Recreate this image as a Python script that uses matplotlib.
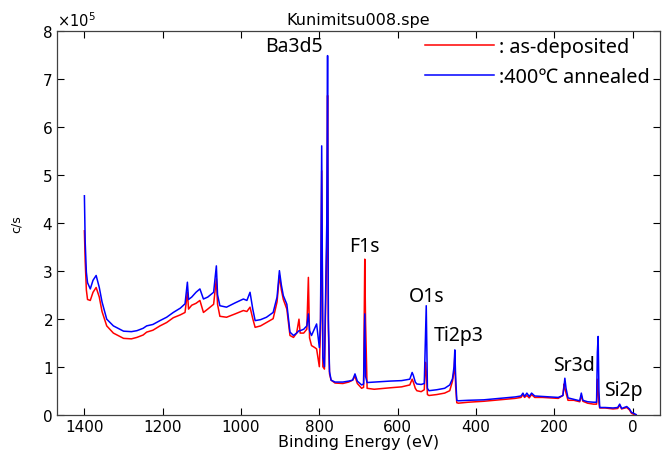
import matplotlib

matplotlib.use("Agg")
import matplotlib.pyplot as plt
import numpy as np
from matplotlib.ticker import ScalarFormatter


COLOR_AS_DEP = "#ff0000"
COLOR_ANNEAL = "#0000ff"
LABEL_FONT = ["Noto Sans", "Noto Sans CJK JP", "DejaVu Sans"]

# binding energy grid (eV)
energy = [
    1400, 1398, 1395, 1392, 1385, 1378, 1370, 1362, 1355, 1343, 1326, 1300, 1280, 1266,
    1250, 1241, 1225, 1207, 1190, 1173, 1155, 1143, 1137, 1134, 1126, 1115, 1105, 1096,
    1085, 1070, 1063, 1060, 1054, 1037, 1015, 994, 985, 977, 970, 964, 950, 935, 918,
    908, 902, 897, 892, 883, 875, 866, 858, 852, 849, 840, 832, 828, 825, 820, 812, 807,
    800, 797, 794, 791, 787, 784, 781, 779, 777, 774, 770, 760, 740, 725, 715, 709, 703,
    692, 687, 684, 682, 678, 660, 620, 590, 569, 563, 560, 555, 551, 540, 532, 529, 527,
    524, 520, 500, 480, 467, 460, 456, 454, 452, 449, 445, 420, 380, 340, 300, 285, 280,
    276, 270, 264, 258, 250, 230, 212, 190, 178, 175, 173, 170, 165, 150, 135, 131, 127,
    115, 100, 92, 90, 88, 86, 84, 70, 50, 38, 33, 28, 15, 8, 3, -5, -9,
]

# intensity in units of 1e5 c/s, 400C annealed
annealed = [
    4.56, 3.60, 2.97, 2.75, 2.62, 2.80, 2.90, 2.65, 2.35, 1.99, 1.85, 1.74, 1.73, 1.75,
    1.80, 1.85, 1.88, 1.96, 2.03, 2.13, 2.22, 2.31, 2.76, 2.40, 2.45, 2.55, 2.62, 2.41,
    2.45, 2.55, 3.10, 2.50, 2.27, 2.24, 2.33, 2.41, 2.38, 2.55, 2.20, 1.96, 1.98, 2.03, 2.13,
    2.45, 3.00, 2.70, 2.48, 2.30, 1.72, 1.65, 1.70, 1.75, 1.75, 1.78, 1.85, 2.10, 1.75, 1.65, 1.80, 1.89,
    1.40, 2.00, 5.60, 1.20, 1.00, 2.50, 4.00, 7.48, 2.00, 0.90, 0.72, 0.68, 0.68, 0.70, 0.72, 0.85, 0.70,
    0.62, 0.64, 2.10, 0.80, 0.67, 0.68, 0.70, 0.71, 0.74, 0.88, 0.82, 0.68, 0.64, 0.63, 0.65, 1.68, 2.27,
    0.55, 0.50, 0.52, 0.55, 0.62, 0.75, 1.00, 1.35, 0.80, 0.30, 0.29, 0.30, 0.31, 0.34, 0.37, 0.39, 0.45,
    0.38, 0.45, 0.38, 0.45, 0.39, 0.38, 0.37, 0.36, 0.40, 0.60, 0.76, 0.55, 0.35, 0.32, 0.29, 0.45, 0.30,
    0.27, 0.26, 0.26, 1.30, 1.63, 0.50, 0.15, 0.15, 0.14, 0.15, 0.22, 0.13, 0.17, 0.12, 0.05, 0.02, 0.00,
]

# intensity in units of 1e5 c/s, as-deposited
as_deposited = [
    3.83, 3.20, 2.60, 2.40, 2.38, 2.55, 2.65, 2.45, 2.15, 1.85, 1.70, 1.59, 1.58, 1.61,
    1.66, 1.72, 1.76, 1.85, 1.92, 2.02, 2.08, 2.13, 2.55, 2.20, 2.28, 2.32, 2.38, 2.13,
    2.20, 2.30, 2.83, 2.30, 2.05, 2.03, 2.10, 2.17, 2.15, 2.24, 2.00, 1.82, 1.85, 1.92, 2.00,
    2.35, 2.90, 2.60, 2.40, 2.20, 1.65, 1.61, 1.70, 1.99, 1.70, 1.70, 1.78, 2.86, 1.60, 1.44, 1.40, 1.37,
    1.00, 1.80, 5.08, 1.00, 0.95, 2.20, 3.50, 6.65, 1.80, 0.85, 0.72, 0.66, 0.65, 0.68, 0.72, 0.80, 0.65,
    0.55, 0.57, 3.24, 1.93, 0.55, 0.53, 0.56, 0.58, 0.62, 0.74, 0.68, 0.55, 0.50, 0.48, 0.52, 1.09, 0.90,
    0.42, 0.40, 0.42, 0.45, 0.50, 0.70, 0.90, 1.23, 0.60, 0.25, 0.24, 0.26, 0.28, 0.31, 0.34, 0.36, 0.42,
    0.36, 0.40, 0.35, 0.42, 0.36, 0.36, 0.35, 0.34, 0.40, 0.64, 0.55, 0.45, 0.30, 0.30, 0.27, 0.40, 0.28,
    0.24, 0.22, 0.22, 0.74, 0.50, 0.25, 0.14, 0.14, 0.12, 0.13, 0.20, 0.12, 0.15, 0.10, 0.03, 0.00, 0.00,
]

# peak labels: (text, energy eV, height in 1e5 c/s)
peak_names = ["Ba3d5", "F1s", "O1s", "Ti2p3", "Sr3d", "Si2p"]
peak_energy = [865, 684, 526, 444, 150, 23]
peak_height = [7.69, 3.52, 2.48, 1.65, 1.04, 0.52]

SCALE = 1e5


fig = plt.figure(figsize=(6.65, 4.52), dpi=100)
ax = fig.add_axes([0.0857, 0.0803, 0.9068, 0.8497])

e = np.array(energy)
ax.plot(e, np.array(as_deposited) * SCALE, color=COLOR_AS_DEP, lw=1.1, label=": as-deposited")
ax.plot(e, np.array(annealed) * SCALE, color=COLOR_ANNEAL, lw=1.1, label=":400\u2103 annealed")

for name, pe, ph in zip(peak_names, peak_energy, peak_height):
    ax.text(pe, ph * SCALE, name, ha="center", va="center", fontsize=14, family=LABEL_FONT)

ax.set_xlim(1470, -70)
ax.set_ylim(0, 8e5)
ax.set_xticks([1400, 1200, 1000, 800, 600, 400, 200, 0])

fmt = ScalarFormatter(useMathText=True)
fmt.set_powerlimits((0, 0))
ax.yaxis.set_major_formatter(fmt)
ax.yaxis.get_offset_text().set_fontsize(10.5)

ax.tick_params(direction="in", length=5, width=0.8, top=True, right=True, labelsize=11, pad=3)
for sp in ax.spines.values():
    sp.set_color("#404040")
    sp.set_linewidth(0.9)

ax.set_title("Kunimitsu008.spe", fontsize=11.5, pad=5)
ax.set_xlabel("Binding Energy (eV)", fontsize=11.5, labelpad=0)
ax.set_ylabel("c/s", fontsize=9, labelpad=14)

ax.legend(
    loc="upper right",
    bbox_to_anchor=(1.013, 1.03),
    frameon=False,
    prop={"family": LABEL_FONT, "size": 14.3},
    handlelength=3.47,
    handletextpad=0.25,
    labelspacing=0.5,
)

fig.savefig("out.png", dpi=100)
